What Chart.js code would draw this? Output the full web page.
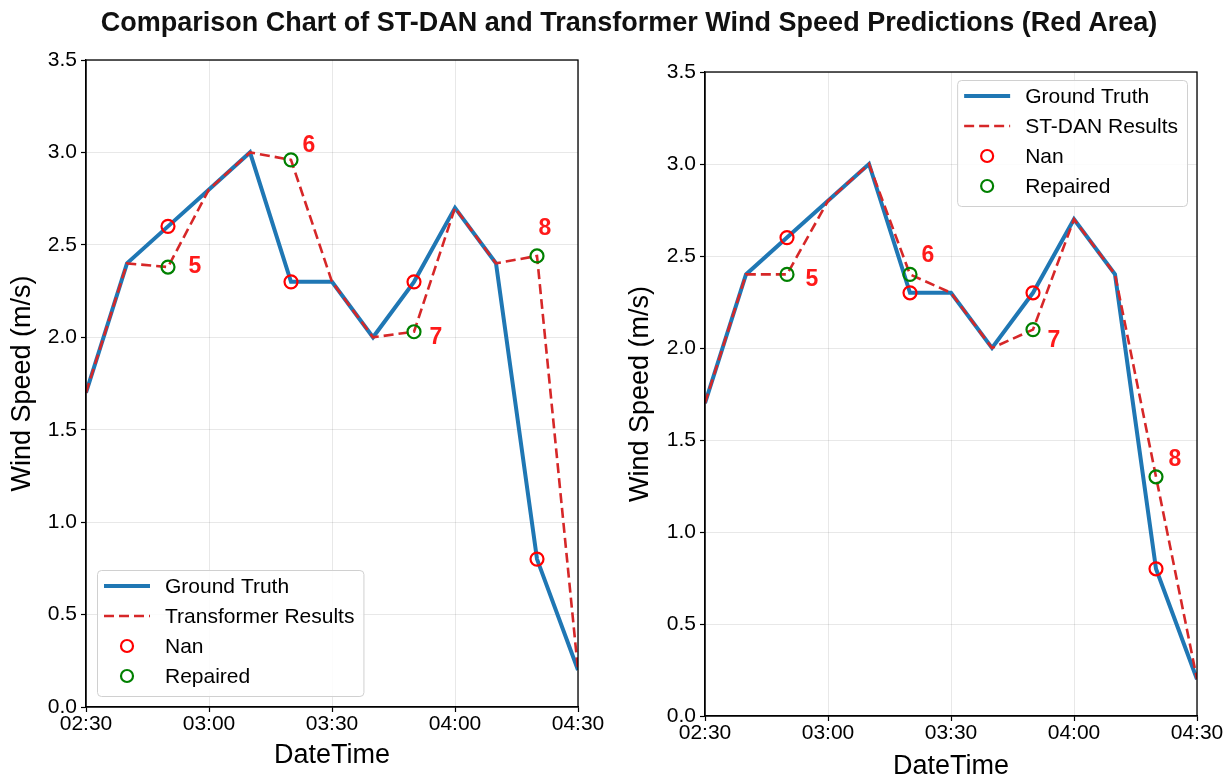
<!DOCTYPE html>
<html><head><meta charset="utf-8">
<script src="https://cdn.jsdelivr.net/npm/chart.js@4"></script>
<style>
html,body{margin:0;padding:0;background:#fff;width:1226px;height:780px;overflow:hidden;}
#title{position:absolute;left:16px;top:6px;width:1226px;text-align:center;font:bold 27px "Liberation Sans",Arial,sans-serif;line-height:32px;color:#111;z-index:2;white-space:nowrap;}
.box{position:absolute;top:0;height:780px;}
#b1{left:0;width:613px;} #b2{left:613px;width:613px;}
</style></head><body>
<div id="title">Comparison Chart of ST-DAN and Transformer Wind Speed Predictions (Red Area)</div>
<div class="box" id="b1"><canvas id="c1"></canvas></div>
<div class="box" id="b2"><canvas id="c2"></canvas></div>
<script>
// ---- data ----
const times = ['02:30','02:40','02:50','03:00','03:10','03:20','03:30','03:40','03:50','04:00','04:10','04:20','04:30'];
const groundTruth = [1.7,2.4,2.6,2.8,3.0,2.3,2.3,2.0,2.3,2.7,2.4,0.8,0.2];
const transformerResults = [1.7,2.4,2.38,2.8,3.0,2.96,2.3,2.0,2.03,2.7,2.4,2.44,0.2];
const stdanResults = [1.7,2.4,2.4,2.8,3.0,2.4,2.3,2.0,2.1,2.7,2.4,1.3,0.2];
const nanTimes = ['02:50','03:20','03:50','04:20'];
const repairLabels = ['5','6','7','8'];
const xTickLabels = ['02:30','03:00','03:30','04:00','04:30'];
const yTickValues = [0,0.5,1.0,1.5,2.0,2.5,3.0,3.5];

const FONT = '"Liberation Sans", Arial, Helvetica, sans-serif';
const toMin = t => { const [h,m] = t.split(':').map(Number); return h*60+m; };
const fmt = v => { const h = Math.floor(v/60), m = Math.round(v%60); return String(h).padStart(2,'0')+':'+String(m).padStart(2,'0'); };
const xs = times.map(toMin);
const nanIdx = nanTimes.map(t => times.indexOf(t));

const framePlugin = {
  id:'frame',
  afterDatasetsDraw(chart){
    const {ctx, chartArea:a} = chart;
    ctx.save(); ctx.strokeStyle='#000'; ctx.lineWidth=1.3;
    ctx.strokeRect(a.left, a.top, a.right-a.left, a.bottom-a.top);
    ctx.restore();
  }
};

const labelPlugin = {
  id:'repairLabels',
  afterDatasetsDraw(chart, args, opts){
    const {ctx, scales:{x,y}} = chart;
    const ds = chart.data.datasets[3];
    ctx.save();
    ctx.fillStyle = '#ff1a1a';
    ctx.font = 'bold 23px ' + FONT;
    ctx.textAlign='center'; ctx.textBaseline='middle';
    ds.data.forEach((p,i)=>{
      const off = opts.offsets[i];
      ctx.fillText(repairLabels[i], x.getPixelForValue(p.x)+off[0], y.getPixelForValue(p.y)+off[1]);
    });
    ctx.restore();
  }
};

const legendPlugin = {
  id:'boxLegend',
  afterDraw(chart, args, opts){
    const {ctx, chartArea:a} = chart;
    const dss = chart.data.datasets;
    ctx.save();
    ctx.font = '21px ' + FONT;
    const tw = Math.max(...dss.map(d=>ctx.measureText(d.label).width));
    const w = 68 + tw + 9, h = 126, rowH = 30;
    const x0 = opts.loc==='ll' ? a.left+11 : a.right-10-w;
    const y0 = opts.loc==='ll' ? a.bottom-11-h : a.top+8;
    ctx.beginPath();
    if (ctx.roundRect) ctx.roundRect(x0+0.5,y0+0.5,w,h,4); else ctx.rect(x0+0.5,y0+0.5,w,h);
    ctx.fillStyle='rgba(255,255,255,0.85)'; ctx.fill();
    ctx.strokeStyle='#d0d0d0'; ctx.lineWidth=1; ctx.stroke();
    dss.forEach((d,i)=>{
      const cy = y0 + 16 + i*rowH;
      if (d.showLine === false) {
        ctx.beginPath(); ctx.setLineDash([]);
        ctx.arc(x0+30, cy, 6, 0, Math.PI*2);
        ctx.strokeStyle = d.pointBorderColor; ctx.lineWidth = 2.2; ctx.stroke();
      } else {
        ctx.beginPath(); ctx.setLineDash(d.borderDash||[]);
        ctx.moveTo(x0+7, cy); ctx.lineTo(x0+53, cy);
        ctx.strokeStyle = d.borderColor; ctx.lineWidth = d.borderWidth; ctx.stroke();
        ctx.setLineDash([]);
      }
      ctx.fillStyle='#000'; ctx.textAlign='left'; ctx.textBaseline='middle';
      ctx.fillText(d.label, x0+68, cy+1);
    });
    ctx.restore();
  }
};

function makeChart(id, predName, pred, cfg){
  return new Chart(document.getElementById(id), {
    type:'line',
    data:{datasets:[
      {label:'Ground Truth', data: xs.map((x,i)=>({x, y:groundTruth[i]})), borderColor:'#1f77b4', borderWidth:4, pointRadius:0, tension:0, order:4, borderJoinStyle:'miter'},
      {label:predName, data: xs.map((x,i)=>({x, y:pred[i]})), borderColor:'#d62728', borderWidth:2.6, borderDash:[10,5], pointRadius:0, tension:0, order:3},
      {label:'Nan', data: nanIdx.map(i=>({x:xs[i], y:groundTruth[i]})), showLine:false, pointRadius:6.5, pointBorderColor:'#ff0000', pointBackgroundColor:'rgba(0,0,0,0)', pointBorderWidth:2.2, order:2},
      {label:'Repaired', data: nanIdx.map(i=>({x:xs[i], y:pred[i]})), showLine:false, pointRadius:6.5, pointBorderColor:'#008000', pointBackgroundColor:'rgba(0,0,0,0)', pointBorderWidth:2.2, order:1}
    ]},
    options:{
      responsive:true, maintainAspectRatio:false, animation:false,
      layout:{padding:{left:0,right:cfg.padRight,top:cfg.padTop,bottom:0}},
      plugins:{legend:{display:false}, tooltip:{enabled:false}, title:{display:false},
        boxLegend:{loc:cfg.loc}, repairLabels:{offsets:cfg.offsets}},
      scales:{
        x:{type:'linear', min:xs[0], max:xs[xs.length-1],
          afterBuildTicks: s => { s.ticks = xTickLabels.map(t=>({value:toMin(t)})); },
          ticks:{callback:v=>fmt(v), font:{family:FONT,size:21}, color:'#000', padding:0, maxRotation:0, autoSkip:false},
          grid:{color:'rgba(0,0,0,0.09)', lineWidth:1, tickColor:'#000', tickLength:5, tickWidth:1.2},
          border:{display:true,color:'#000',width:1.3},
          title:{display:true, text:'DateTime', font:{family:FONT,size:27,lineHeight:1}, color:'#000', padding:{top:0,bottom:cfg.xTitlePad}},
          afterFit: s => { s.height = cfg.xAxisH; }
        },
        y:{type:'linear', min:0, max:3.5,
          afterBuildTicks: s => { s.ticks = yTickValues.map(v=>({value:v})); },
          ticks:{callback:v=>Number(v).toFixed(1), font:{family:FONT,size:21}, color:'#000', padding:4},
          grid:{color:'rgba(0,0,0,0.09)', lineWidth:1, tickColor:'#000', tickLength:5, tickWidth:1.2},
          border:{display:true,color:'#000',width:1.3},
          title:{display:true, text:'Wind Speed (m/s)', font:{family:FONT,size:27,lineHeight:1}, color:'#000', padding:{top:cfg.yTitlePad,bottom:0}},
          afterFit: s => { s.width = cfg.yAxisW; }
        }
      }
    },
    plugins:[framePlugin, labelPlugin, legendPlugin]
  });
}

makeChart('c1','Transformer Results', transformerResults, {
  padRight:35, padTop:60, xAxisH:73, yAxisW:86, xTitlePad:11, yTitlePad:9, loc:'ll',
  offsets:[[27,0],[18,-14],[22,6],[8,-27]]
});
makeChart('c2','ST-DAN Results', stdanResults, {
  padRight:29, padTop:72, xAxisH:64, yAxisW:92, xTitlePad:0, yTitlePad:14, loc:'ur',
  offsets:[[25,5],[18,-19],[21,11],[19,-17]]
});
</script>
</body></html>
